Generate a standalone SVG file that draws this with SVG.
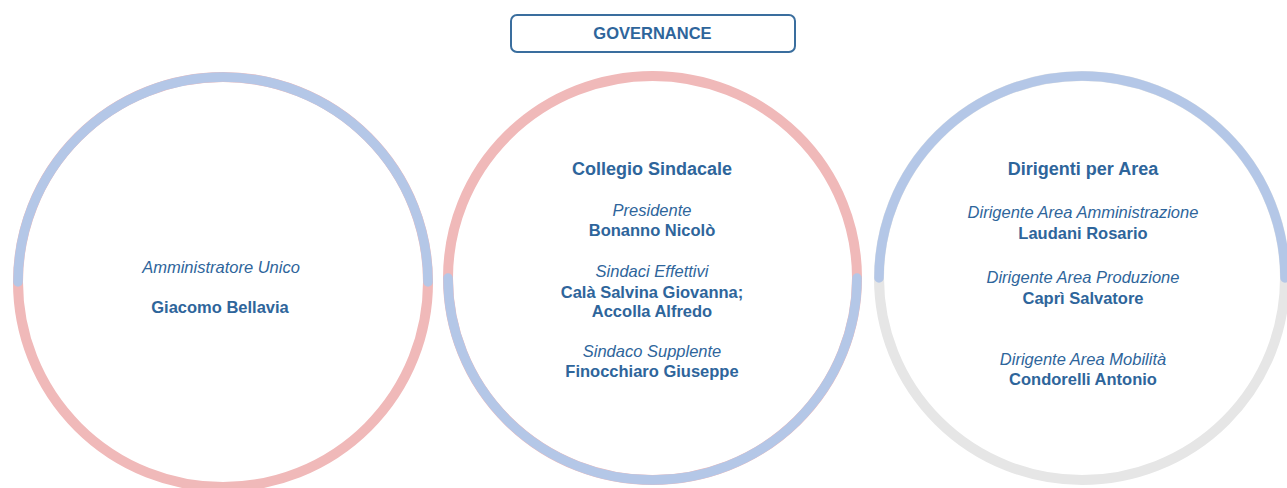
<svg xmlns="http://www.w3.org/2000/svg" width="1287" height="488" viewBox="0 0 1287 488">
<style>
text{font-family:"Liberation Sans",Arial,sans-serif;fill:#2E659B;text-anchor:middle}
.h{font-weight:bold;font-size:18px}
.b{font-weight:bold;font-size:16.5px}
.i{font-style:italic;font-size:16.5px}
.ring{fill:none;stroke-width:10}
.arc{fill:none;stroke-width:9.5;stroke-linecap:round;stroke:#B4C7E7}
.pink{stroke:#F0B9B9}
.gray{stroke:#E6E6E6}
</style>
<rect width="1287" height="488" fill="#FFFFFF"/>
<g id="title">
<rect x="511" y="15" width="284" height="37" rx="6" fill="#FFFFFF" stroke="#3A6E9E" stroke-width="2"/>
<text class="b" x="652.5" y="39">GOVERNANCE</text>
</g>
<g id="amministratore">
<ellipse class="ring pink" cx="223" cy="282" rx="205" ry="205"/>
<path class="arc" d="M18 282 A205 205 0 0 1 428 282"/>
<text class="i" x="221" y="273">Amministratore Unico</text>
<text class="b" x="220" y="313">Giacomo Bellavia</text>
</g>
<g id="collegio">
<ellipse class="ring pink" cx="652.5" cy="278" rx="204.5" ry="202"/>
<path class="arc" d="M448 278 A204.5 202 0 0 0 857 278"/>
<text class="h" x="652" y="175">Collegio Sindacale</text>
<text class="i" x="652" y="216">Presidente</text>
<text class="b" x="652" y="236">Bonanno Nicolò</text>
<text class="i" x="652" y="277">Sindaci Effettivi</text>
<text class="b" x="652" y="298">Calà Salvina Giovanna;</text>
<text class="b" x="652" y="317">Accolla Alfredo</text>
<text class="i" x="652" y="357">Sindaco Supplente</text>
<text class="b" x="652" y="377">Finocchiaro Giuseppe</text>
</g>
<g id="dirigenti">
<ellipse class="ring gray" cx="1082" cy="278" rx="203" ry="202"/>
<path class="arc" d="M879 278 A203 202 0 0 1 1285 278"/>
<text class="h" x="1083" y="175">Dirigenti per Area</text>
<text class="i" x="1083" y="218">Dirigente Area Amministrazione</text>
<text class="b" x="1083" y="239">Laudani Rosario</text>
<text class="i" x="1083" y="283">Dirigente Area Produzione</text>
<text class="b" x="1083" y="304">Caprì Salvatore</text>
<text class="i" x="1083" y="365">Dirigente Area Mobilità</text>
<text class="b" x="1083" y="385">Condorelli Antonio</text>
</g>
<g id="connectors"/>
</svg>
